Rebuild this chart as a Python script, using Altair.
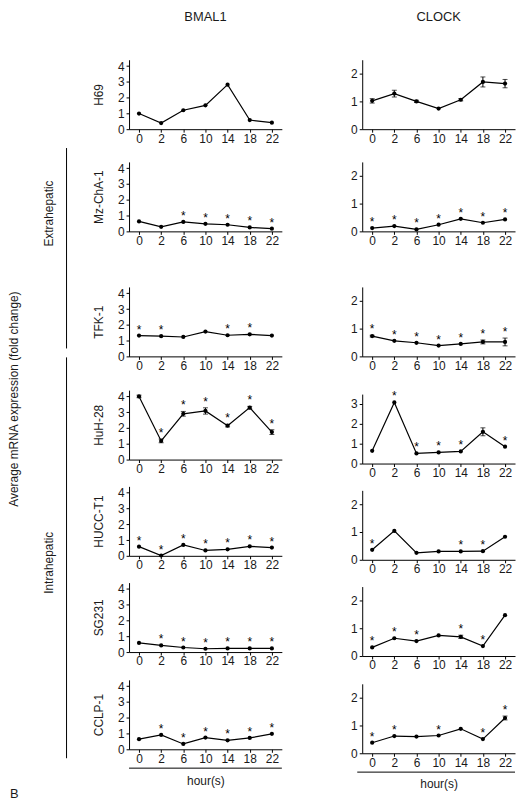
import altair as alt
import pandas as pd

hours = ["0", "2", "6", "10", "14", "18", "22"]
cell_lines = ["H69", "Mz-ChA-1", "TFK-1", "HuH-28", "HUCC-T1", "SG231", "CCLP-1"]

# BMAL1 mean fold change, error and significance flags per cell line
bmal1_vals = {
    "H69":      [0.99, 0.39, 1.20, 1.51, 2.82, 0.58, 0.41],
    "Mz-ChA-1": [0.63, 0.29, 0.60, 0.48, 0.42, 0.25, 0.17],
    "TFK-1":    [1.32, 1.28, 1.23, 1.57, 1.34, 1.40, 1.32],
    "HuH-28":   [4.00, 1.18, 2.90, 3.08, 2.15, 3.29, 1.74],
    "HUCC-T1":  [0.58, 0.02, 0.69, 0.34, 0.41, 0.60, 0.52],
    "SG231":    [0.58, 0.42, 0.29, 0.21, 0.23, 0.23, 0.23],
    "CCLP-1":   [0.64, 0.91, 0.34, 0.74, 0.57, 0.72, 0.98],
}
bmal1_err = {
    "H69":      [0, 0, 0, 0, 0, 0, 0],
    "Mz-ChA-1": [0, 0, 0, 0, 0, 0, 0],
    "TFK-1":    [0, 0, 0, 0, 0, 0, 0],
    "HuH-28":   [0.08, 0.12, 0.15, 0.20, 0.08, 0.08, 0.15],
    "HUCC-T1":  [0, 0, 0, 0, 0, 0, 0],
    "SG231":    [0, 0, 0, 0, 0, 0, 0],
    "CCLP-1":   [0, 0, 0, 0, 0, 0, 0],
}
bmal1_star = {
    "H69":      [0, 0, 0, 0, 0, 0, 0],
    "Mz-ChA-1": [0, 0, 1, 1, 1, 1, 1],
    "TFK-1":    [1, 1, 0, 0, 1, 1, 0],
    "HuH-28":   [0, 1, 1, 1, 1, 1, 1],
    "HUCC-T1":  [1, 1, 1, 1, 1, 1, 1],
    "SG231":    [0, 1, 1, 1, 1, 1, 1],
    "CCLP-1":   [0, 1, 1, 1, 1, 1, 1],
}

# CLOCK
clock_vals = {
    "H69":      [1.02, 1.28, 1.00, 0.74, 1.06, 1.70, 1.64],
    "Mz-ChA-1": [0.12, 0.19, 0.07, 0.24, 0.45, 0.31, 0.43],
    "TFK-1":    [0.73, 0.56, 0.49, 0.39, 0.45, 0.52, 0.52],
    "HuH-28":   [0.64, 3.08, 0.51, 0.56, 0.61, 1.60, 0.85],
    "HUCC-T1":  [0.36, 1.04, 0.25, 0.30, 0.30, 0.31, 0.83],
    "SG231":    [0.31, 0.64, 0.54, 0.74, 0.69, 0.36, 1.47],
    "CCLP-1":   [0.38, 0.62, 0.60, 0.64, 0.88, 0.51, 1.27],
}
clock_err = {
    "H69":      [0.08, 0.12, 0.04, 0, 0.04, 0.18, 0.15],
    "Mz-ChA-1": [0, 0, 0, 0, 0, 0, 0],
    "TFK-1":    [0.03, 0, 0, 0, 0, 0.07, 0.14],
    "HuH-28":   [0, 0, 0, 0, 0, 0.20, 0],
    "HUCC-T1":  [0, 0, 0, 0, 0, 0, 0],
    "SG231":    [0, 0, 0, 0, 0.06, 0, 0],
    "CCLP-1":   [0, 0, 0, 0, 0, 0, 0.07],
}
clock_star = {
    "H69":      [0, 0, 0, 0, 0, 0, 0],
    "Mz-ChA-1": [1, 1, 1, 1, 1, 1, 1],
    "TFK-1":    [1, 1, 1, 1, 1, 1, 1],
    "HuH-28":   [0, 1, 1, 1, 1, 0, 1],
    "HUCC-T1":  [1, 0, 0, 0, 1, 1, 0],
    "SG231":    [1, 1, 1, 0, 1, 1, 0],
    "CCLP-1":   [1, 1, 0, 1, 0, 1, 1],
}

bmal1_ymax = {c: 4.4 for c in cell_lines}
bmal1_ticks = {c: [0, 1, 2, 3, 4] for c in cell_lines}
clock_ymax = {c: (3.5 if c == "HuH-28" else 2.5) for c in cell_lines}
clock_ticks = {c: ([0, 1, 2, 3] if c == "HuH-28" else [0, 1, 2]) for c in cell_lines}

FONT = "Liberation Sans"
W, H = 154, 70
row_spacing = [18, 41, 19, 12, 12, 13]


def panel(name, gene, vals, errs, stars, ymax, yticks, top, bottom, left):
    df = pd.DataFrame({"hour": hours, "value": vals, "err": errs, "star": stars})
    df["lo"] = df["value"] - df["err"]
    df["hi"] = df["value"] + df["err"]

    xaxis = alt.Axis(labelAngle=0, title="hour(s)" if bottom else None,
                     tickSize=3, labelPadding=1, titlePadding=11,
                     titleFontWeight="normal", titleFontSize=12, titleFont=FONT)
    yaxis = alt.Axis(values=yticks, title=name if left else None, tickSize=3,
                     labelPadding=2, titlePadding=12, titleFontWeight="normal",
                     titleFontSize=12, titleFont=FONT, grid=False)
    xs = alt.Scale(type="point", padding=0.45)
    ys = alt.Scale(domain=[0, ymax], nice=False, zero=True)

    def X():
        return alt.X("hour:O", sort=hours, scale=xs, axis=xaxis)

    def Y(f):
        return alt.Y(f + ":Q", scale=ys, axis=yaxis)

    base = alt.Chart(df)
    line = base.mark_line(color="black", strokeWidth=1.2).encode(x=X(), y=Y("value"))
    pts = base.mark_circle(color="black", size=18, opacity=1).encode(x=X(), y=Y("value"))
    eb = base.transform_filter("datum.err > 0").mark_rule(color="black", strokeWidth=1).encode(
        x=X(), y=Y("lo"), y2="hi:Q")
    caph = base.transform_filter("datum.err > 0").mark_tick(color="black", size=5, thickness=1).encode(
        x=X(), y=Y("hi"))
    capl = base.transform_filter("datum.err > 0").mark_tick(color="black", size=5, thickness=1).encode(
        x=X(), y=Y("lo"))
    st = base.transform_filter("datum.star == 1").mark_text(
        text="*", dy=-6, fontSize=12, font=FONT, baseline="middle", color="black").encode(
        x=X(), y=Y("hi"))
    layers = [line, eb, caph, capl, pts, st]
    if bottom:
        rule = alt.Chart(pd.DataFrame({"k": [0]})).mark_rule(color="black", strokeWidth=1).encode(
            x=alt.value(0 if left else -5), x2=alt.value(W), y=alt.value(H + 19))
        layers.append(rule)
    ch = alt.layer(*layers).properties(width=W, height=H)
    if top:
        ch = ch.properties(title=alt.TitleParams(gene, fontSize=13, fontWeight="normal",
                                                 font=FONT, offset=36, color="#1a1a1a"))
    return ch


def column(gene, vals, errs, stars, ymax, ticks, left):
    panels = []
    n = len(cell_lines)
    for i, c in enumerate(cell_lines):
        panels.append(panel(c, gene, vals[c], errs[c], stars[c], ymax[c], ticks[c],
                            top=(i == 0), bottom=(i == n - 1), left=left))
    col = panels[-1]
    for i in range(n - 2, -1, -1):
        col = alt.vconcat(panels[i], col, spacing=row_spacing[i])
    return col


colL = column("BMAL1", bmal1_vals, bmal1_err, bmal1_star, bmal1_ymax, bmal1_ticks, True)
colR = column("CLOCK", clock_vals, clock_err, clock_star, clock_ymax, clock_ticks, False)

# decorations (group labels); positions relative to the top of the first row of panels
dd = alt.Chart(pd.DataFrame({"k": [0]}))
deco = alt.layer(
    dd.mark_text(text="Average mRNA expression (fold change)", angle=270, fontSize=12,
                 font=FONT, color="#1a1a1a", baseline="middle", align="center").encode(
        x=alt.value(4), y=alt.value(342)),
    dd.mark_text(text="Extrahepatic", angle=270, fontSize=12, font=FONT, color="#1a1a1a",
                 baseline="middle", align="center").encode(x=alt.value(39), y=alt.value(155)),
    dd.mark_text(text="Intrahepatic", angle=270, fontSize=12, font=FONT, color="#1a1a1a",
                 baseline="middle", align="center").encode(x=alt.value(39), y=alt.value(507)),
    dd.mark_rule(color="black", strokeWidth=1).encode(x=alt.value(57), y=alt.value(89), y2=alt.value(291)),
    dd.mark_rule(color="black", strokeWidth=1).encode(x=alt.value(57), y=alt.value(300), y2=alt.value(704)),
    dd.mark_text(text="B", fontSize=13, font=FONT, color="#1a1a1a", baseline="middle",
                 align="left").encode(x=alt.value(0), y=alt.value(740)),
).properties(width=62, height=700)

chart = alt.hconcat(deco, alt.hconcat(colL, colR, spacing=68), spacing=21).properties(
    padding=0
).configure_view(stroke=None).configure_axis(
    domainColor="black", tickColor="black", labelFont=FONT, labelFontSize=12,
    labelColor="#1a1a1a", titleColor="#1a1a1a"
)

chart.save("out.html", embed_options={"renderer": "svg", "actions": False})
